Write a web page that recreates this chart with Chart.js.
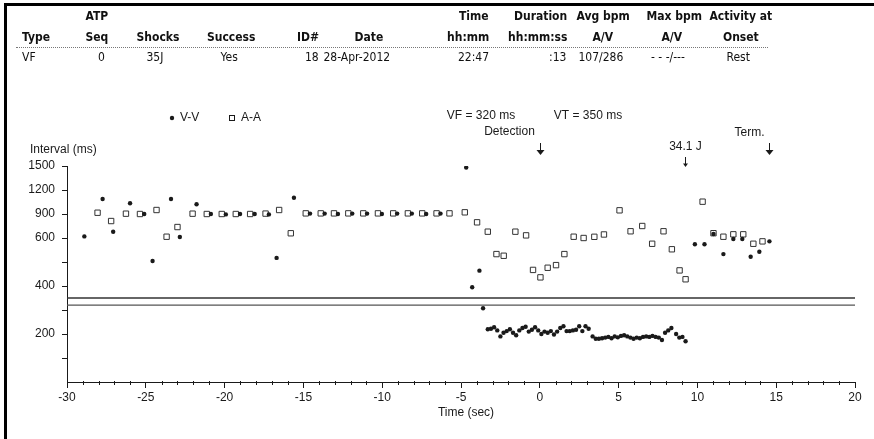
<!DOCTYPE html>
<html>
<head>
<meta charset="utf-8">
<script src="https://cdn.jsdelivr.net/npm/chart.js@4.4.0/dist/chart.umd.min.js"></script>
<style>
  body { margin: 0; background: #fff; }
  #wrap { position: relative; width: 874px; height: 439px; overflow: hidden; background: #fff; }
  #frame { position: absolute; left: 4px; top: 3px; width: 900px; height: 460px; border-left: 3px solid #000; border-top: 3px solid #000; }
  #rule { position: absolute; left: 16px; top: 47px; width: 752px; border-top: 1px dotted #777; }
  .cell { position: absolute; font-family: "Liberation Sans Narrow", "DejaVu Sans Condensed", sans-serif; font-size: 12px; line-height: 14px; color: #111; white-space: nowrap; }
  .b { font-weight: bold; }
  canvas { position: absolute; left: 0; top: 0; }
</style>
</head>
<body>
<div id="wrap">
  <canvas id="chart" width="874" height="439"></canvas>
  <div id="frame"></div>
  <div id="rule"></div>
</div>
<script>
// Tabla del episodio
const headTop = ['', 'ATP', '', '', '', '', 'Time', 'Duration', 'Avg bpm', 'Max bpm', 'Activity at'];
const headBottom = ['Type', 'Seq', 'Shocks', 'Success', 'ID#', 'Date', 'hh:mm', 'hh:mm:ss', 'A/V', 'A/V', 'Onset'];
const episode = ['VF', '0', '35J', 'Yes', '18', '28-Apr-2012', '22:47', ':13', '107/286', '- - -/---', 'Rest'];

// Zonas y marcas
const vfZone = 320;
const vtZone = 350;
const markerTimes = [0, 9.2, 14.55];
const markerLabels = ['Detection', '34.1 J', 'Term.'];

// Ejes
const yTickMarks = [100, 200, 300, 400, 500, 600, 900, 1200, 1500];
const yTickLabels = [200, 400, 600, 900, 1200, 1500];
const xLabelStep = 5;

// V-V (segundos, ms)
const vvTime = [-28.90, -27.74, -27.07, -26.00, -25.10, -24.57, -23.40, -22.84, -21.78, -20.87,
  -19.92, -19.02, -18.09, -17.19, -16.70, -15.60, -14.58, -13.65, -12.81, -11.90,
  -10.96, -10.02, -9.05, -8.12, -7.21, -6.30, -4.67, -4.29, -3.83, -3.60,
  -3.30, -3.10, -2.90, -2.70, -2.50, -2.30, -2.10, -1.90, -1.70, -1.50,
  -1.30, -1.10, -0.90, -0.70, -0.50, -0.30, -0.10, 0.10, 0.30, 0.50,
  0.70, 0.90, 1.10, 1.30, 1.50, 1.70, 1.90, 2.10, 2.30, 2.50,
  2.70, 2.90, 3.10, 3.35, 3.55, 3.75, 3.95, 4.15, 4.35, 4.55,
  4.75, 4.95, 5.15, 5.35, 5.55, 5.75, 5.95, 6.15, 6.35, 6.55,
  6.75, 6.95, 7.15, 7.35, 7.55, 7.75, 7.95, 8.15, 8.35, 8.65,
  8.85, 9.05, 9.25, 9.84, 10.45, 11.02, 11.65, 12.28, 12.85, 13.38,
  13.93, 14.57];
const vvInterval = [620, 1087, 679, 1034, 900, 504, 1087, 612, 1021, 900,
  895, 900, 900, 895, 517, 1104, 905, 905, 900, 905,
  905, 900, 905, 905, 900, 905, 1480, 395, 464, 307,
  220, 222, 228, 215, 190, 205, 212, 220, 205, 195,
  215, 225, 230, 210, 218, 228, 215, 200, 210, 205,
  212, 198, 210, 225, 232, 212, 212, 215, 218, 232,
  212, 232, 222, 190, 180, 180, 182, 185, 188, 182,
  190, 186, 192, 195, 190, 185, 180, 185, 182, 188,
  190, 188, 192, 188, 185, 175, 205, 215, 225, 200,
  185, 188, 170, 574, 574, 650, 533, 596, 596, 522,
  543, 586];

// A-A (segundos, ms)
const aaTime = [-28.06, -27.20, -26.26, -25.37, -24.32, -23.68, -22.99, -22.03, -21.13, -20.18,
  -19.29, -18.38, -17.40, -16.54, -15.80, -14.85, -13.90, -13.06, -12.15, -11.20,
  -10.27, -9.30, -8.37, -7.46, -6.55, -5.73, -4.76, -3.98, -3.30, -2.75,
  -2.29, -1.55, -0.87, -0.43, 0.04, 0.50, 1.03, 1.56, 2.15, 2.78,
  3.46, 4.07, 5.06, 5.76, 6.50, 7.13, 7.85, 8.38, 8.87, 9.25,
  10.33, 11.02, 11.65, 12.28, 12.91, 13.55, 14.13];
const aaInterval = [916, 812, 904, 900, 950, 616, 737, 904, 900, 900,
  900, 900, 905, 950, 659, 908, 908, 908, 908, 908,
  908, 908, 908, 908, 908, 908, 921, 796, 679, 533,
  526, 679, 633, 467, 436, 476, 487, 533, 616, 600,
  615, 644, 946, 684, 750, 576, 684, 553, 465, 428,
  1054, 660, 616, 646, 646, 576, 586];

const ink = '#1a1a1a';

// Encabezado como texto HTML
const cols = [
  // [x, alineación] por fila: arriba, títulos, valores
  [[0, 'l'], [22, 'l'], [22, 'l']],
  [[97, 'c'], [97, 'c'], [105, 'r']],
  [[0, 'c'], [158, 'c'], [155, 'c']],
  [[0, 'c'], [231, 'c'], [229, 'c']],
  [[0, 'c'], [319, 'r'], [319, 'r']],
  [[0, 'c'], [369, 'c'], [357, 'c']],
  [[489, 'r'], [489, 'r'], [489, 'r']],
  [[567, 'r'], [567, 'r'], [566, 'r']],
  [[603, 'c'], [603, 'c'], [601, 'c']],
  [[674, 'c'], [672, 'c'], [668, 'c']],
  [[741, 'c'], [741, 'c'], [738, 'c']]
];
const rowsTop = [9, 30, 50];
const wrap = document.getElementById('wrap');
[headTop, headBottom, episode].forEach((row, r) => {
  row.forEach((txt, i) => {
    if (!txt) return;
    const d = document.createElement('div');
    d.className = 'cell' + (r < 2 ? ' b' : '');
    d.textContent = txt;
    d.style.top = rowsTop[r] + 'px';
    wrap.appendChild(d);
    const [x, al] = cols[i][r];
    const w = d.offsetWidth;
    d.style.left = (al === 'l' ? x : al === 'c' ? x - w / 2 : x - w) + 'px';
  });
});

// Escala de intervalos: 100 ms por división bajo 600, 300 ms por encima
const warp = v => (v <= 600 ? v : 600 + (v - 600) / 3);
const unwarp = w => (w <= 600 ? w : 600 + (w - 600) * 3);
class IntervalScale extends Chart.LinearScale {
  getPixelForValue(value) {
    return this.getPixelForDecimal(warp(value) / warp(this.max));
  }
  getValueForPixel(pixel) {
    return unwarp(this.getDecimalForPixel(pixel) * warp(this.max));
  }
}
IntervalScale.id = 'interval';
IntervalScale.defaults = Chart.LinearScale.defaults;
Chart.register(IntervalScale);

// Textos, leyenda, marcas menores y flechas
const extras = {
  id: 'extras',
  afterDraw(chart) {
    const { ctx, scales: { x, y } } = chart;
    ctx.save();
    ctx.fillStyle = ink;
    ctx.strokeStyle = ink;
    ctx.lineWidth = 1;
    for (let v = x.min; v <= x.max; v++) {
      if (v % xLabelStep === 0) continue;
      const px = Math.round(x.getPixelForValue(v)) + 0.5;
      ctx.beginPath();
      ctx.moveTo(px, y.bottom - 1);
      ctx.lineTo(px, y.bottom + 3);
      ctx.stroke();
    }
    ctx.font = '12px "Liberation Sans", Arial, sans-serif';
    ctx.textBaseline = 'middle';
    ctx.textAlign = 'left';
    ctx.fillText('Interval (ms)', 30, 150);
    ctx.textAlign = 'center';
    ctx.fillText('Time (sec)', 466, 413);

    // leyenda
    const ds = chart.data.datasets;
    ctx.textAlign = 'left';
    ctx.beginPath();
    ctx.arc(172, 118, 2.2, 0, Math.PI * 2);
    ctx.fill();
    ctx.fillText(ds[0].label, 180, 118);
    ctx.strokeRect(229.5, 115.5, 5, 5);
    ctx.fillText(ds[1].label, 241, 118);

    // zonas
    ctx.textAlign = 'center';
    ctx.fillText('VF = ' + vfZone + ' ms', 481, 116);
    ctx.fillText('VT = ' + vtZone + ' ms', 588, 116);

    // marcas de eventos
    const lay = [
      { dx: -31, ty: 132, top: 143, bot: 155, head: 4 },
      { dx: 0, ty: 147, top: 157, bot: 167, head: 2.5 },
      { dx: -20, ty: 133, top: 143, bot: 155, head: 4 }
    ];
    markerTimes.forEach((t, i) => {
      const px = Math.round(x.getPixelForValue(t)) + 0.5;
      const l = lay[i];
      ctx.fillText(markerLabels[i], px + l.dx, l.ty);
      ctx.beginPath();
      ctx.moveTo(px, l.top);
      ctx.lineTo(px, l.bot - 3);
      ctx.stroke();
      ctx.beginPath();
      ctx.moveTo(px - l.head, l.bot - l.head - 1);
      ctx.lineTo(px + l.head, l.bot - l.head - 1);
      ctx.lineTo(px, l.bot);
      ctx.closePath();
      ctx.fill();
    });
    ctx.restore();
  }
};

const vvPoints = vvTime.map((t, i) => ({ x: t, y: vvInterval[i] }));
const aaPoints = aaTime.map((t, i) => ({ x: t, y: aaInterval[i] }));

new Chart(document.getElementById('chart'), {
  type: 'scatter',
  data: {
    datasets: [
      {
        label: 'V-V',
        data: vvPoints,
        pointStyle: 'circle',
        pointRadius: 2.2,
        backgroundColor: ink,
        borderColor: ink,
        borderWidth: 0
      },
      {
        label: 'A-A',
        data: aaPoints,
        pointStyle: 'rect',
        pointRadius: 3.8,
        backgroundColor: '#fff',
        borderColor: '#333',
        borderWidth: 1
      },
      {
        type: 'line',
        label: 'VT',
        data: [{ x: -30, y: vtZone }, { x: 20, y: vtZone }],
        borderColor: '#333',
        borderWidth: 1.5,
        pointRadius: 0
      },
      {
        type: 'line',
        label: 'VF',
        data: [{ x: -30, y: vfZone }, { x: 20, y: vfZone }],
        borderColor: '#555',
        borderWidth: 1.3,
        pointRadius: 0
      }
    ]
  },
  options: {
    responsive: false,
    animation: false,
    devicePixelRatio: 1,
    layout: { padding: { top: 166, right: 19, left: 0, bottom: 0 } },
    plugins: { legend: { display: false }, tooltip: { enabled: false } },
    scales: {
      x: {
        type: 'linear',
        min: -30,
        max: 20,
        afterFit: s => { s.height = 57; },
        border: { display: true, color: ink, width: 1 },
        grid: {
          drawOnChartArea: false,
          tickLength: 6,
          color: c => (c.tick && c.tick.value % xLabelStep === 0 ? ink : 'rgba(0,0,0,0)')
        },
        ticks: {
          stepSize: 1,
          autoSkip: false,
          maxRotation: 0,
          padding: 2,
          color: ink,
          font: { family: '"Liberation Sans", Arial, sans-serif', size: 12 },
          callback: v => (v % xLabelStep === 0 ? v : '')
        }
      },
      y: {
        type: 'interval',
        min: 0,
        max: 1500,
        bounds: 'data',
        afterFit: s => { s.width = 67; },
        afterBuildTicks: s => { s.ticks = yTickMarks.map(v => ({ value: v })); },
        border: { display: true, color: ink, width: 1 },
        grid: { drawOnChartArea: false, tickLength: 5, color: ink },
        ticks: {
          padding: 7,
          color: ink,
          font: { family: '"Liberation Sans", Arial, sans-serif', size: 12 },
          callback: v => (yTickLabels.includes(v) ? v : '')
        }
      }
    }
  },
  plugins: [extras]
});
</script>
</body>
</html>
